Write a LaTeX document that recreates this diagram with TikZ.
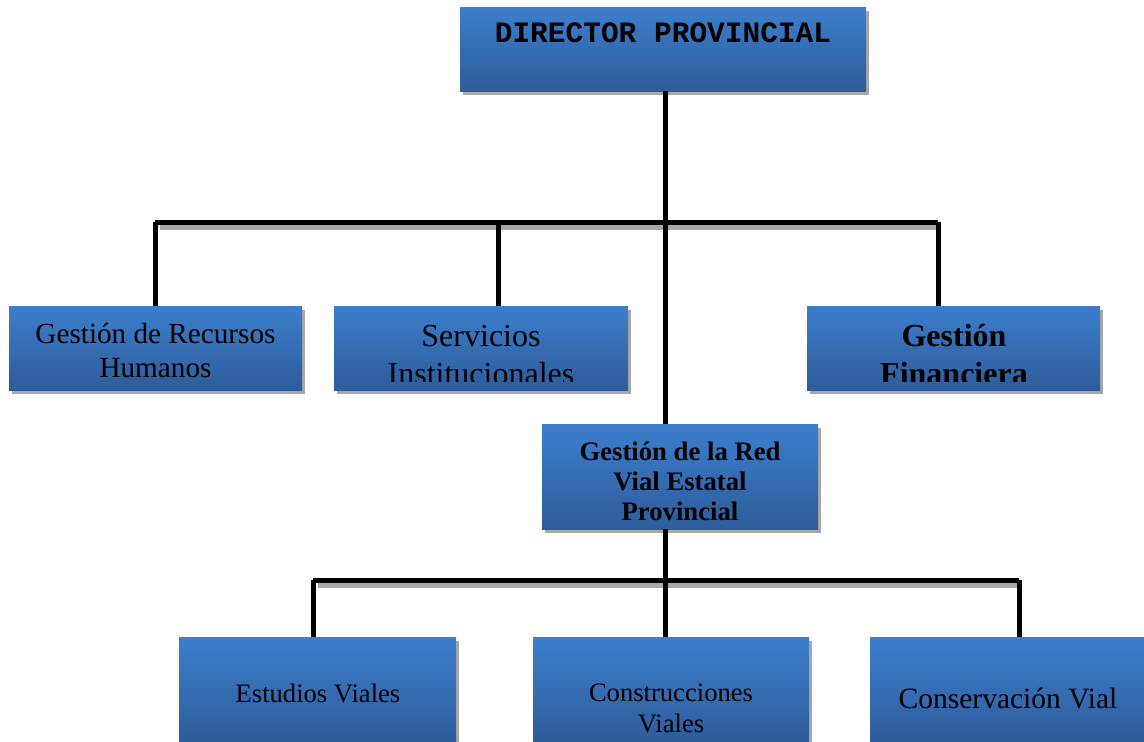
\documentclass[tikz,border=0pt]{standalone}
\usepackage{fontspec}
\setmainfont{Liberation Serif}
\newfontfamily\monofam{Liberation Mono}
\usetikzlibrary{shadows}
\definecolor{boxtop}{HTML}{3C7ECC}
\definecolor{boxbot}{HTML}{2E5C9A}
\definecolor{shadowgray}{HTML}{A8A8A8}
\tikzset{
  orgbox/.style={rectangle, inner sep=0pt, top color=boxtop, bottom color=boxbot, draw=none,
    drop shadow={shadow xshift=3pt, shadow yshift=-4pt, fill=shadowgray, opacity=1}},
  lbl/.style={align=center, inner sep=0pt, text=black},
  link/.style={line width=5pt, black},
  linkshadow/.style={line width=5pt, shadowgray},
}
\newcommand{\mybox}[5]{% name, x1, y1, x2, y2
  \path[orgbox] (#2,#3) rectangle (#4,#5);
  \coordinate (#1-nw) at (#2,#3);
  \coordinate (#1-se) at (#4,#5);
  \coordinate (#1-cl) at (#4,#5-9);
  \coordinate (#1) at ({(#2+#4)/2},{(#3+#5)/2});
}
\begin{document}
\begin{tikzpicture}[x=1pt,y=-1pt]
\useasboundingbox (0,0) rectangle (1144,742);
% boxes
\mybox{dir}{460}{7}{866}{91}
\mybox{rh}{9}{306}{302}{390}
\mybox{si}{334}{306}{628}{390}
\mybox{gf}{807}{306}{1100}{390}
\mybox{rv}{542}{424}{818}{529}
\mybox{ev}{179}{637}{456}{742}
\mybox{cv}{533}{637}{809}{742}
\mybox{co}{870}{637}{1144}{742}
% junction coordinates
\coordinate (t0) at (665,91);
\coordinate (t1) at (665,222);
\coordinate (b1) at (155,222);
\coordinate (b2) at (498,222);
\coordinate (b3) at (938,222);
\coordinate (r0) at (665,529);
\coordinate (r1) at (665,580);
\coordinate (d1) at (313,580);
\coordinate (d3) at (1019,580);
% connector shadows
\draw[linkshadow] ([xshift=5pt,yshift=-5pt]b1) -- ([xshift=2pt,yshift=-5pt]b3);
\draw[linkshadow] ([xshift=5pt,yshift=-5pt]d1) -- ([xshift=2pt,yshift=-5pt]d3);
% connectors
\draw[link] (t0) -- (t0 |- rv-nw);
\draw[link] (b1) -- (b3);
\draw[link] (b1) -- (b1 |- rh-nw);
\draw[link] (b2) -- (b2 |- si-nw);
\draw[link] (b3) -- (b3 |- gf-nw);
\draw[link] (r0) -- (r0 |- cv-nw);
\draw[link] (d1) -- (d3);
\draw[link] (d1) -- (d1 |- ev-nw);
\draw[link] (d3) -- (d3 |- co-nw);
% texts
\node[lbl, font=\monofam\bfseries\fontsize{29.5}{34}\selectfont] (tdir) at (663,33) {DIRECTOR PROVINCIAL};
\node[lbl, font=\fontsize{29.2}{34}\selectfont] (trh) at (155.5,350) {Gestión de Recursos\\Humanos};
\begin{scope}
\clip (si-nw) rectangle (si-cl);
\node[lbl, font=\fontsize{32}{38}\selectfont] (tsi) at (481,355) {Servicios\\Institucionales};
\end{scope}
\begin{scope}
\clip (gf-nw) rectangle (gf-cl);
\node[lbl, font=\bfseries\fontsize{32}{38}\selectfont] (tgf) at (954,355) {Gestión\\Financiera};
\end{scope}
\begin{scope}
\clip (rv-nw) rectangle (rv-cl);
\node[lbl, font=\bfseries\fontsize{26.7}{30}\selectfont] (trv) at (680,481) {Gestión de la Red\\Vial Estatal\\Provincial};
\end{scope}
\node[lbl, font=\fontsize{26.6}{31}\selectfont] (tev) at (318,693) {Estudios Viales};
\node[lbl, font=\fontsize{26.6}{31}\selectfont] (tcv) at (671,708) {Construcciones\\Viales};
\node[lbl, font=\fontsize{29.5}{34}\selectfont] (tco) at (1008,698) {Conservación Vial};
\end{tikzpicture}
\end{document}
